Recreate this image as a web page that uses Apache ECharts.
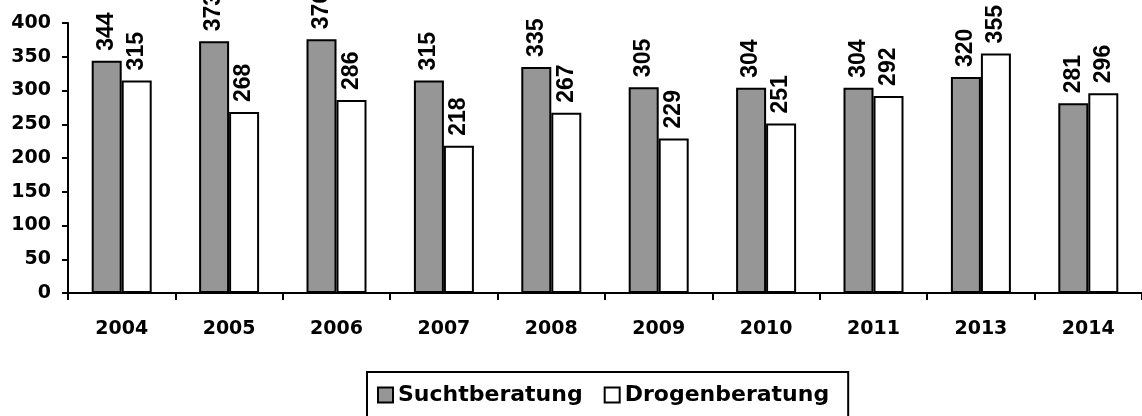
<!DOCTYPE html>
<html>
<head>
<meta charset="utf-8">
<script src="https://cdn.jsdelivr.net/npm/echarts@6/dist/echarts.min.js"></script>
<style>
html,body{margin:0;padding:0;background:#fff;}
#chart{width:1142px;height:416px;}
</style>
</head>
<body>
<div id="chart"></div>
<script>
const categories = ['2004','2005','2006','2007','2008','2009','2010','2011','2013','2014'];
const suchtberatung = [344, 373, 376, 315, 335, 305, 304, 304, 320, 281];
const drogenberatung = [315, 268, 286, 218, 267, 229, 251, 292, 355, 296];
const yTicks = [0, 50, 100, 150, 200, 250, 300, 350, 400];

const hFont = '"DejaVu Sans", sans-serif';
const labelFont = '"Liberation Sans", Arial, sans-serif';

const chart = echarts.init(document.getElementById('chart'));

const barLabel = {
  show: true,
  position: 'top',
  rotate: 90,
  align: 'left',
  verticalAlign: 'middle',
  distance: 10,
  color: '#000',
  fontFamily: labelFont,
  fontWeight: 'bold',
  fontSize: 23
};

chart.setOption({
  animation: false,
  backgroundColor: '#fff',
  grid: { left: 68, right: -1, top: 23, bottom: 123, containLabel: false },
  xAxis: {
    type: 'category',
    data: categories,
    axisLine: { lineStyle: { color: '#000', width: 2 } },
    axisTick: { show: true, length: 7, lineStyle: { color: '#000', width: 2 } },
    axisLabel: { color: '#000', fontFamily: hFont, fontWeight: 'bold', fontSize: 19, margin: 27 }
  },
  yAxis: {
    type: 'value',
    min: yTicks[0],
    max: yTicks[yTicks.length - 1],
    interval: 50,
    splitLine: { show: false },
    axisLine: { show: true, lineStyle: { color: '#000', width: 2 } },
    axisTick: { show: true, length: 6, lineStyle: { color: '#000', width: 2 } },
    axisLabel: { color: '#000', fontFamily: hFont, fontWeight: 'bold', fontSize: 19, margin: 17 }
  },
  legend: {
    left: 367,
    top: 372,
    orient: 'horizontal',
    padding: [12, 19, 30, 10],
    borderColor: '#000',
    borderWidth: 2,
    itemWidth: 15,
    itemHeight: 15,
    itemGap: 21,
    icon: 'rect',
    textStyle: { color: '#000', fontFamily: hFont, fontWeight: 'bold', fontSize: 22 },
    data: ['Suchtberatung', 'Drogenberatung']
  },
  series: [
    {
      name: 'Suchtberatung',
      type: 'bar',
      data: suchtberatung,
      barWidth: 30,
      barGap: '0%',
      itemStyle: { color: '#969696', borderColor: '#000', borderWidth: 2 },
      label: barLabel
    },
    {
      name: 'Drogenberatung',
      type: 'bar',
      data: drogenberatung,
      barWidth: 30,
      barGap: '0%',
      itemStyle: { color: '#ffffff', borderColor: '#000', borderWidth: 2 },
      label: barLabel
    }
  ]
});
</script>
</body>
</html>
